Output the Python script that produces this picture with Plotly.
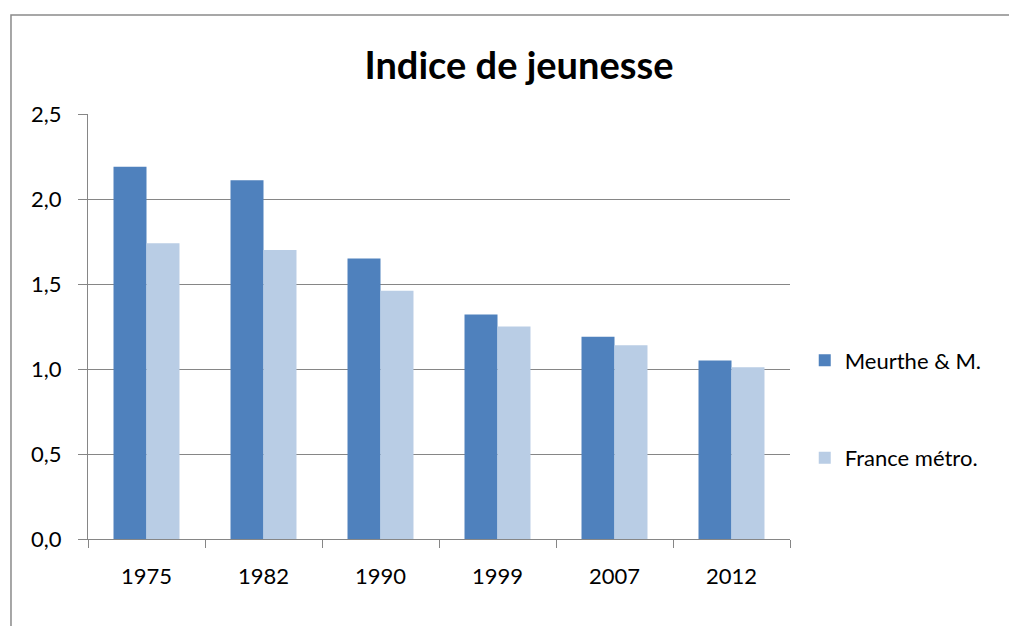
import plotly.graph_objects as go

# Data
years = ['1975', '1982', '1990', '1999', '2007', '2012']
meurthe = [2.19, 2.11, 1.65, 1.32, 1.19, 1.05]
france = [1.74, 1.70, 1.46, 1.25, 1.14, 1.01]

FONT = 'Lato, Liberation Sans, sans-serif'
GRID = '#868686'

fig = go.Figure()

fig.add_trace(go.Bar(
    x=years, y=meurthe, name='Meurthe & M.',
    marker=dict(color='#4F81BD', line=dict(width=0)),
    legendgroup='a'
))
fig.add_trace(go.Bar(
    x=years, y=france, name='France métro.',
    marker=dict(color='#B9CDE5', line=dict(width=0)),
    legendgroup='b'
))

# outer chart frame (right and bottom edges fall off the picture)
fig.add_shape(type='rect', xref='paper', yref='paper',
              x0=-0.1097, x1=1.6, y0=-0.4, y1=1.233,
              line=dict(color='#8a8a8a', width=1.5), fillcolor='rgba(0,0,0,0)')

# page body has an 8px margin, so the figure is a bit smaller than the window
fig.update_layout(
    width=1009, height=618,
    separators=', ',
    title=dict(text='<b>Indice de jeunesse</b>', x=0.5064, xanchor='center',
               y=0.907, yanchor='middle',
               font=dict(family=FONT, size=38, color='black')),
    barmode='group',
    bargap=0.436,
    bargroupgap=0,
    xaxis=dict(
        showline=True, linecolor=GRID, linewidth=1,
        ticks='outside', tickson='boundaries', ticklen=8, tickcolor=GRID,
        tickfont=dict(family=FONT, size=22, color='black'),
        ticklabelstandoff=18,
        showgrid=False,
    ),
    yaxis=dict(
        range=[0, 2.5], dtick=0.5, tickformat='.1f',
        showline=True, linecolor=GRID, linewidth=1,
        ticks='outside', ticklen=9, tickcolor=GRID,
        gridcolor=GRID, gridwidth=1,
        zeroline=False,
        tickfont=dict(family=FONT, size=22, color='black'),
        ticklabelstandoff=12,
    ),
    legend=dict(
        x=1.021, xanchor='left', y=0.305, yanchor='middle',
        traceorder='grouped', tracegroupgap=66,
        font=dict(family=FONT, size=22, color='black'),
        itemwidth=30,
    ),
    plot_bgcolor='white', paper_bgcolor='white',
    margin=dict(l=80, r=227, t=106, b=87),
)

fig.write_html('out.html')
